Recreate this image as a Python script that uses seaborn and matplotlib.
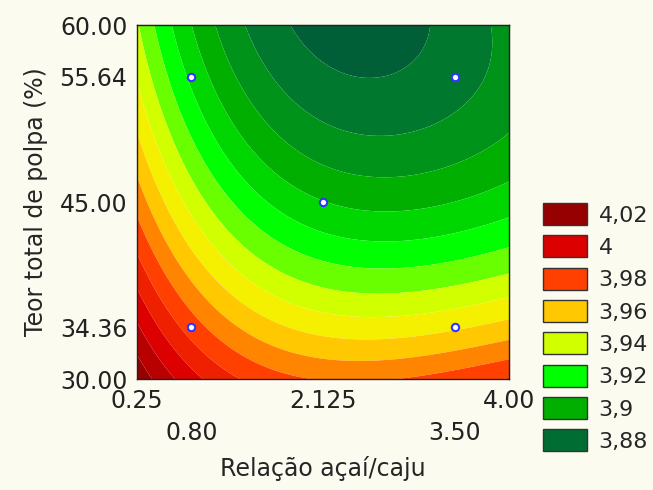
import numpy as np
import matplotlib
matplotlib.use("Agg")
import matplotlib.pyplot as plt
from matplotlib.colors import ListedColormap, BoundaryNorm
from matplotlib.patches import Patch
import seaborn as sns

A = np.sqrt(2)  # axial distance of the design (coded units)

# design points (coded units)
design_x = [-1, 1, 0, -1, 1]
design_y = [1, 1, 0, -1, -1]

x_tick_pos = [-A, -1, 0, 1, A]
x_tick_lab = ["0.25", "\n0.80", "2.125", "\n3.50", "4.00"]
y_tick_pos = [-A, -1, 0, 1, A]
y_tick_lab = ["30.00", "34.36", "45.00", "55.64", "60.00"]

# fitted response surface
# terms: 1, x, y, x^2, xy, y^2, x^3, x^2y, xy^2, y^3
surface_coef = [3.90537, -0.01459, -0.03768, 0.01776, -0.00132, 0.00870,
                -0.00346, 0.00201, 0.00331, 0.00061]

band_values = [3.87, 3.88, 3.89, 3.90, 3.91, 3.92, 3.93, 3.94, 3.95, 3.96,
               3.97, 3.98, 3.99, 4.00, 4.01, 4.02]
band_colors = ["#005f37", "#00782d", "#00931a", "#00af00", "#00d700", "#00ff00",
               "#69ff00", "#d2ff00", "#f5ef00", "#ffc800", "#ff8400", "#ff4000",
               "#ee2000", "#dc0000", "#b90000", "#960000"]

legend_labels = ["4,02", "4", "3,98", "3,96", "3,94", "3,92", "3,9", "3,88"]
legend_colors = ["#960000", "#dc0000", "#ff4000", "#ffc800", "#d2ff00",
                 "#00ff00", "#00af00", "#006e32"]

sns.set_style("ticks")
plt.rcParams["font.family"] = ["DejaVu Sans"]

fig = plt.figure(figsize=(6.53, 4.9), dpi=100, facecolor="#fcfbf0")
ax = fig.add_axes([0.2098, 0.2265, 0.5697, 0.7224])

g = np.linspace(-A, A, 400)
X, Y = np.meshgrid(g, g)
terms = [np.ones_like(X), X, Y, X**2, X*Y, Y**2, X**3, X**2*Y, X*Y**2, Y**3]
Z = sum(c * t for c, t in zip(surface_coef, terms))

levels = [3.0] + [v + 0.005 for v in band_values[:-1]] + [5.0]
cmap = ListedColormap(band_colors)
ax.contourf(X, Y, Z, levels=levels, cmap=cmap, norm=BoundaryNorm(levels, cmap.N),
            antialiased=True)

sns.scatterplot(x=design_x, y=design_y, ax=ax, marker="o", s=28, color="white",
                edgecolor="#3333ff", linewidth=1.5, zorder=5)

ax.set_xlim(-A, A)
ax.set_ylim(-A, A)
ax.set_xticks(x_tick_pos)
ax.set_xticklabels(x_tick_lab, fontsize=17, linespacing=1.42)
ax.set_yticks(y_tick_pos)
ax.set_yticklabels(y_tick_lab, fontsize=17)
ax.tick_params(direction="in", length=0, pad=7, colors="#222222")
# only the centre ticks are drawn on left / bottom
ax.xaxis.get_major_ticks()[2].tick1line.set_markersize(5)
ax.yaxis.get_major_ticks()[2].tick1line.set_markersize(5)
for s in ax.spines.values():
    s.set_color("#222222")
    s.set_linewidth(1.0)

eighths = [-A + k * 2 * A / 8 for k in range(1, 8)]
top = ax.secondary_xaxis("top")
top.set_xticks(eighths)
top.tick_params(direction="in", length=4, labeltop=False)
right = ax.secondary_yaxis("right")
right.set_yticks(eighths)
right.tick_params(direction="in", length=4, labelright=False)

ax.set_xlabel("Relação açaí/caju", fontsize=17, labelpad=8)
ax.set_ylabel("Teor total de polpa (%)", fontsize=17, labelpad=8)

handles = [Patch(facecolor=c, edgecolor="#333333", linewidth=1) for c in legend_colors]
fig.legend(handles, legend_labels, loc="upper left", bbox_to_anchor=(543/653, 1 - 203/490),
           frameon=False, fontsize=16, handlelength=2.0, handleheight=1.15,
           labelspacing=0.44, handletextpad=0.5, borderaxespad=0, borderpad=0)

fig.savefig("out.png", dpi=100, facecolor=fig.get_facecolor())
